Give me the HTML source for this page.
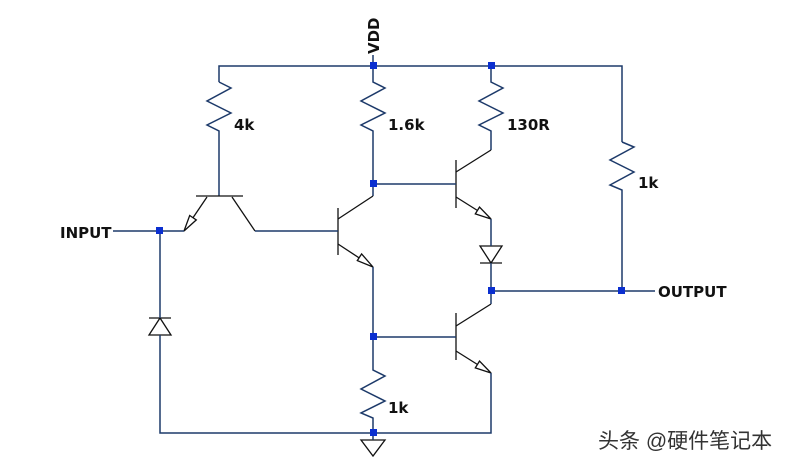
<!DOCTYPE html>
<html><head><meta charset="utf-8"><style>
html,body{margin:0;padding:0;background:#fff;width:786px;height:465px;overflow:hidden}
svg{display:block}
text{font-family:"DejaVu Sans","Liberation Sans",sans-serif;font-weight:bold;font-size:15px;fill:#111}
</style></head><body>
<svg width="786" height="465" viewBox="0 0 786 465" xmlns="http://www.w3.org/2000/svg">
<g stroke="#1d3a6a" stroke-width="1.5" fill="none">
<polyline points="219,82 219,66 622,66 622,142"/>
<polyline points="219,82 231,88 207,101 231,113 207,125 219,131 219,196"/>
<polyline points="373,66 373,82 385,88 361,101 385,113 361,125 373,131 373,196"/>
<polyline points="491,66 491,82 503,88 479,101 503,113 479,125 491,131 491,150"/>
<polyline points="622,142 634,147 610,160 634,172 610,185 622,190 622,291"/>
</g>
<g stroke="#111" stroke-width="1.3" fill="none">
<line x1="196" y1="196" x2="243" y2="196"/>
<line x1="207" y1="197" x2="184" y2="231"/>
<line x1="232" y1="197" x2="255" y2="231"/>
<polygon points="184,231 196.3,219.9 189.7,215.5" fill="#fff"/>
<line x1="338" y1="208" x2="338" y2="255"/>
<line x1="338" y1="219" x2="373" y2="196"/>
<line x1="338" y1="244" x2="373" y2="267"/>
<polygon points="373,267 357.3,260.6 361.6,253.9" fill="#fff"/>
<line x1="456" y1="160" x2="456" y2="208"/>
<line x1="456" y1="172" x2="491" y2="150"/>
<line x1="456" y1="197" x2="491" y2="219"/>
<polygon points="491,219 475.3,213.9 479.5,207.1" fill="#fff"/>
<line x1="456" y1="313" x2="456" y2="360"/>
<line x1="456" y1="326" x2="491" y2="304"/>
<line x1="456" y1="351" x2="491" y2="373"/>
<polygon points="491,373 475.3,367.9 479.5,361.1" fill="#fff"/>
<polygon points="480,246 502,246 491,263" fill="#fff"/>
<line x1="480" y1="263" x2="502" y2="263"/>
<polygon points="149,335 171,335 160,318" fill="#fff"/>
<line x1="149" y1="318" x2="171" y2="318"/>
<polygon points="361,440 385,440 373,456" fill="#fff"/>
</g>
<g stroke="#1d3a6a" stroke-width="1.5" fill="none">
<polyline points="113,231 184,231"/>
<polyline points="255,231 338,231"/>
<polyline points="160,231 160,318"/>
<polyline points="160,335 160,433 491,433 491,373"/>
<polyline points="373,267 373,370 385,376 361,389 385,401 361,413 373,418 373,440"/>
<polyline points="373,184 456,184"/>
<polyline points="373,337 456,337"/>
<polyline points="491,219 491,246"/>
<polyline points="491,263 491,304"/>
<polyline points="491,291 655,291"/>
<polyline points="373,66 373,55"/>
</g>
<g fill="#0b2fd0">
<rect x="156" y="227" width="7" height="7"/>
<rect x="370" y="62" width="7" height="7"/>
<rect x="488" y="62" width="7" height="7"/>
<rect x="370" y="180" width="7" height="7"/>
<rect x="370" y="333" width="7" height="7"/>
<rect x="370" y="429" width="7" height="7"/>
<rect x="488" y="287" width="7" height="7"/>
<rect x="618" y="287" width="7" height="7"/>
</g>
<text x="60" y="238">INPUT</text>
<text x="658" y="297">OUTPUT</text>
<text x="234" y="130">4k</text>
<text x="388" y="130">1.6k</text>
<text x="507" y="130">130R</text>
<text x="638" y="188">1k</text>
<text x="388" y="413">1k</text>
<text transform="translate(379,54) rotate(-90)">VDD</text>
<text x="598" y="448" style="font-weight:normal;font-size:21px;fill:#333;font-family:'Liberation Sans','Noto Sans CJK SC',sans-serif">头条 @硬件笔记本</text>
</svg>
</body></html>
